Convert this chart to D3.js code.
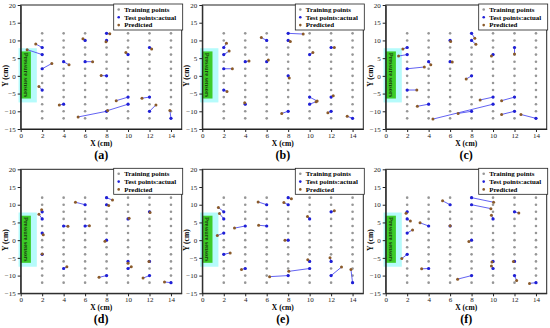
<!DOCTYPE html>
<html>
<head>
<meta charset="utf-8">
<script src="https://cdn.jsdelivr.net/npm/d3@7"></script>
<style>
  body { margin: 0; background: #fff; }
  text { font-family: "Liberation Serif", "Times New Roman", serif; }
</style>
</head>
<body>
<script>
// training grid
const gridX = [2, 4, 6, 8, 10, 12, 14];
const gridY = [-12, -10, -8, -6, -4, -2, 0, 2, 4, 6, 8, 10, 12];

// test points (actual), same in every panel
const testX = [2, 2, 2, 2, 4, 4, 6, 6, 8, 8, 8, 8, 10, 10, 10, 12, 12, 12, 14];
const testY = [8, 6, 2, -4, 4, -8, 10, 4, 12, 10, 0, -10, 6, -6, -8, 8, -6, -10, -12];

// predicted points, one list per panel
const predA = [[1.4,9.0],[0.6,7.4],[2.9,3.5],[1.7,-3.0],[4.5,3.1],[3.6,-8.2],[5.8,10.5],[6.7,4.0],[8.3,11.9],[7.95,9.6],[7.5,0.1],[5.35,-11.6],[9.8,6.6],[8.9,-7.0],[8.1,-9.8],[12.2,7.6],[11.3,-6.3],[12.6,-8.2],[13.9,-9.8]];
const predB = [[2.25,9.2],[2.5,7.0],[2.8,2.0],[2.3,-4.4],[4.35,4.2],[3.95,-7.6],[5.5,10.8],[6.15,4.5],[9.4,11.8],[8.2,9.7],[8.1,-0.6],[7.4,-10.6],[10.3,6.6],[10.7,-7.1],[10.6,-7.3],[12.3,8.0],[12.2,-5.6],[11.7,-10.4],[13.5,-11.4]];
const predC = [[1.6,7.6],[1.2,5.6],[3.6,2.5],[2.9,-4.0],[4.2,3.1],[2.95,-8.6],[6.05,9.7],[6.2,3.9],[8.3,10.6],[8.4,8.9],[7.5,-0.9],[6.75,-10.6],[9.85,5.6],[8.8,-6.8],[4.4,-12.2],[12.0,6.2],[10.8,-7.0],[10.8,-10.9],[12.6,-10.9]];
const predD = [[1.95,8.6],[1.7,7.3],[2.1,1.5],[2.0,-3.9],[4.4,3.9],[4.3,-7.5],[5.1,10.7],[6.4,4.1],[8.55,11.3],[8.2,9.8],[7.85,-0.3],[7.3,-10.5],[10.1,6.2],[10.0,-6.5],[10.3,-7.5],[12.05,7.8],[11.95,-6.0],[11.4,-10.7],[13.4,-11.8]];
const predE = [[1.5,9.2],[1.6,7.5],[1.4,1.3],[2.6,-3.6],[3.0,3.4],[3.65,-8.3],[5.2,10.8],[5.25,4.2],[8.3,11.7],[7.6,10.6],[7.7,0.0],[6.27,-10.3],[9.8,6.7],[9.83,-5.5],[8.06,-8.8],[12.3,8.3],[11.9,-5.0],[12.97,-7.6],[13.85,-8.3]];
const predF = [[1.9,7.6],[2.3,5.4],[2.5,2.9],[1.5,-5.2],[3.2,4.9],[3.35,-8.1],[5.3,11.1],[6.0,4.1],[10.05,10.7],[9.8,8.9],[7.75,-0.4],[6.7,-11.0],[9.85,7.0],[9.9,-6.2],[9.85,-7.3],[12.4,7.7],[11.9,-6.0],[12.2,-11.4],[13.4,-12.2]];

const panelNames = ["(a)", "(b)", "(c)", "(d)", "(e)", "(f)"];
const panelPreds = [predA, predB, predC, predD, predE, predF];

const xTicks = [0, 2, 4, 6, 8, 10, 12, 14];
const yTicks = [-15, -10, -5, 0, 5, 10, 15, 20];
const legendNames = ["Training points", "Test points:actual", "Predicted"];

const colLeft = [20.7, 202.3, 385.7],
      rowTop = [5, 169.3],
      pW = 161,
      pH = 124;

const cGrid = "#969696", cTest = "#1f1fd8", cPred = "#8a5a2a", cLine = "#5050f0";

const x = d3.scaleLinear().domain([0, 15]).range([0, pW]);
const y = d3.scaleLinear().domain([-15, 20]).range([pH, 0]);

const svg = d3.select("body").append("svg")
    .attr("width", 550)
    .attr("height", 328);

svg.append("rect").attr("width", 550).attr("height", 328).attr("fill", "#fff");

const gridPts = [];
gridX.forEach(gx => gridY.forEach(gy => gridPts.push([gx, gy])));

for (let p = 0; p < 6; p++) {
    const pred = panelPreds[p];
    const g = svg.append("g")
        .attr("transform", "translate(" + colLeft[p % 3] + "," + rowTop[Math.floor(p / 3)] + ")");

    // sensor strip
    g.append("rect")
        .attr("x", x(-0.2)).attr("y", y(7.8))
        .attr("width", x(1.5) - x(-0.2)).attr("height", y(-7.5) - y(7.8))
        .attr("fill", "#b5fbfb");
    g.append("rect")
        .attr("x", x(0)).attr("y", y(6.9))
        .attr("width", x(0.95) - x(0)).attr("height", y(-6.4) - y(6.9))
        .attr("fill", "#3ccc28");
    g.append("text")
        .attr("transform", "translate(" + (x(0.47) - 2) + "," + y(0.25) + ") rotate(90)")
        .attr("text-anchor", "middle")
        .attr("font-size", "6.3px")
        .attr("font-weight", "bold")
        .attr("fill", "#1a3a10")
        .text("Pressure sensors");

    // training grid
    g.selectAll(".grid")
        .data(gridPts)
        .enter().append("circle")
        .attr("cx", d => x(d[0]))
        .attr("cy", d => y(d[1]))
        .attr("r", 1.3)
        .attr("fill", cGrid);

    // actual -> predicted
    g.selectAll(".link")
        .data(pred)
        .enter().append("line")
        .attr("x1", (d, i) => x(testX[i]))
        .attr("y1", (d, i) => y(testY[i]))
        .attr("x2", d => x(d[0]))
        .attr("y2", d => y(d[1]))
        .attr("stroke", cLine)
        .attr("stroke-width", 0.9);

    g.selectAll(".test")
        .data(testX)
        .enter().append("circle")
        .attr("cx", d => x(d))
        .attr("cy", (d, i) => y(testY[i]))
        .attr("r", 1.6)
        .attr("fill", cTest);

    g.selectAll(".pred")
        .data(pred)
        .enter().append("circle")
        .attr("cx", d => x(d[0]))
        .attr("cy", d => y(d[1]))
        .attr("r", 1.5)
        .attr("fill", cPred);

    // axes
    const ax = g.append("g")
        .attr("transform", "translate(0," + pH + ")")
        .call(d3.axisBottom(x).tickValues(xTicks).tickSize(3).tickPadding(1).tickSizeOuter(0));
    const ay = g.append("g")
        .call(d3.axisLeft(y).tickValues(yTicks).tickSize(3).tickPadding(2).tickSizeOuter(0).tickFormat(d => d < 0 ? "\u2212" + (-d) : d));
    [ax, ay].forEach(a => {
        a.selectAll("text").attr("font-size", "7px").attr("font-family", "Liberation Serif, serif").attr("fill", "#222");
        a.selectAll("line, path").attr("stroke", "#222");
    });

    g.append("rect")
        .attr("width", pW).attr("height", pH)
        .attr("fill", "none").attr("stroke", "#222").attr("stroke-width", 1);

    g.append("text")
        .attr("x", pW / 2).attr("y", pH + 17)
        .attr("text-anchor", "middle")
        .attr("font-size", "7.5px").attr("font-weight", "bold")
        .text("X (cm)");

    g.append("text")
        .attr("transform", "translate(-13," + y(0) + ") rotate(-90)")
        .attr("text-anchor", "middle")
        .attr("font-size", "7.5px").attr("font-weight", "bold")
        .text("Y (cm)");

    g.append("text")
        .attr("x", pW / 2).attr("y", pH + 30)
        .attr("text-anchor", "middle")
        .attr("font-size", "12px").attr("font-weight", "bold")
        .text(panelNames[p]);

    // legend
    const lg = g.append("g").attr("transform", "translate(" + (pW - 68) + ",-1)");
    lg.append("rect")
        .attr("width", 69).attr("height", 26)
        .attr("fill", "#fff").attr("stroke", "#222").attr("stroke-width", 0.8);
    const lCol = [cGrid, cTest, cPred];
    legendNames.forEach((name, i) => {
        lg.append("circle")
            .attr("cx", 5).attr("cy", 5.5 + i * 7.8)
            .attr("r", 1.3).attr("fill", lCol[i]);
        lg.append("text")
            .attr("x", 10.5).attr("y", 5.5 + i * 7.8)
            .attr("dy", "0.33em")
            .attr("font-size", "6.9px").attr("font-weight", "bold")
            .text(name);
    });
}
</script>
</body>
</html>
